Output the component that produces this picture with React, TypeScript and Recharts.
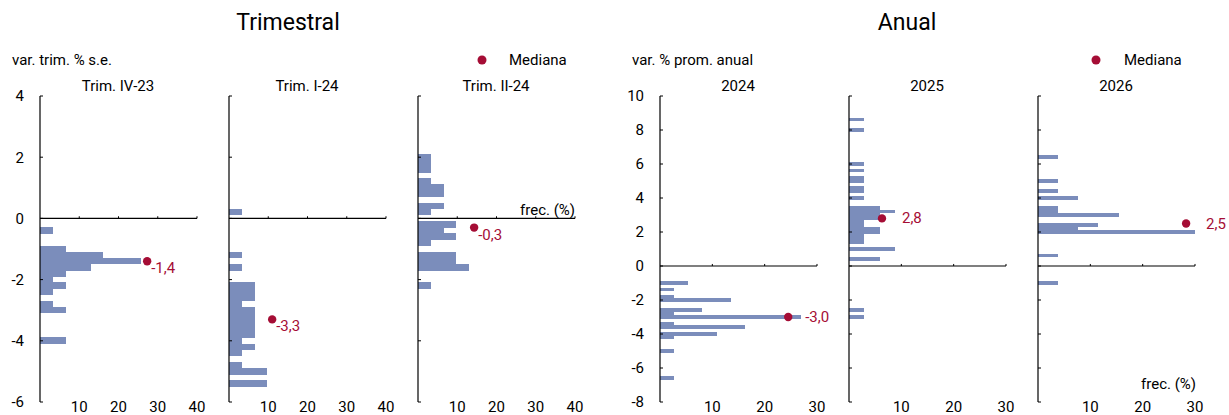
import React from "react";
import {
  BarChart,
  Bar,
  XAxis,
  YAxis,
  ReferenceLine,
  ReferenceDot,
} from "recharts";

const BAR_COLOR = "#7b8dbb";
const MED_COLOR = "#a50d35";
const FONT = "Roboto, sans-serif";

// Trimestral: bin centre (var. trim. %) and frequency (%)
const trimIV23Bins = [-0.4, -1.0, -1.2, -1.4, -1.6, -1.8, -2.0, -2.2, -2.4, -2.8, -3.0, -4.0];
const trimIV23Freq = [3.2, 6.5, 16.1, 25.8, 12.9, 6.5, 3.2, 6.5, 3.2, 3.2, 6.5, 6.5];

const trimI24Bins = [0.2, -1.2, -1.6, -2.2, -2.4, -2.6, -2.8, -3.0, -3.2, -3.4, -3.6, -3.8, -4.0, -4.2, -4.4, -4.8, -5.0, -5.4];
const trimI24Freq = [3.2, 3.2, 3.2, 6.5, 6.5, 6.5, 3.2, 6.5, 6.5, 6.5, 6.5, 6.5, 3.2, 6.5, 3.2, 3.2, 9.7, 9.7];

const trimII24Bins = [2.0, 1.8, 1.6, 1.2, 1.0, 0.8, 0.4, 0.2, -0.2, -0.4, -0.6, -0.8, -1.2, -1.4, -1.6, -2.2];
const trimII24Freq = [3.2, 3.2, 3.2, 3.2, 6.5, 6.5, 6.5, 3.2, 9.7, 6.5, 9.7, 3.2, 9.7, 9.7, 12.9, 3.2];

// Anual: bin centre (var. % prom. anual) and frequency (%)
const y2024Bins = [-1.0, -1.4, -1.8, -2.0, -2.6, -2.8, -3.0, -3.4, -3.6, -4.0, -4.2, -5.0, -6.6];
const y2024Freq = [5.4, 2.7, 2.7, 13.5, 8.1, 2.7, 27.0, 2.7, 16.2, 10.8, 2.7, 2.7, 2.7];

const y2025Bins = [8.6, 8.0, 6.0, 5.6, 5.2, 5.0, 4.6, 4.4, 4.0, 3.4, 3.2, 3.0, 2.8, 2.6, 2.4, 2.2, 2.0, 1.8, 1.6, 1.4, 1.0, 0.4, -2.6, -3.0];
const y2025Freq = [2.9, 2.9, 2.9, 2.9, 2.9, 2.9, 2.9, 2.9, 2.9, 5.9, 8.8, 5.9, 5.9, 2.9, 2.9, 5.9, 5.9, 2.9, 2.9, 2.9, 8.8, 5.9, 2.9, 2.9];

const y2026Bins = [6.4, 5.0, 4.4, 4.0, 3.4, 3.2, 3.0, 2.4, 2.2, 2.0, 0.6, -1.0];
const y2026Freq = [3.8, 3.8, 3.8, 7.7, 3.8, 3.8, 15.4, 11.5, 7.7, 30.0, 3.8, 3.8];

// medians: value, marker position on frequency axis, label
const medianValues = [-1.4, -3.3, -0.3, -3.0, 2.8, 2.5];
const medianFreqPos = [27.3, 11, 14.3, 24.5, 6.3, 28.3];
const medianLabels = ["-1,4", "-3,3", "-0,3", "-3,0", "2,8", "2,5"];

const panelTitles = ["Trim. IV-23", "Trim. I-24", "Trim. II-24", "2024", "2025", "2026"];

const trimYTicks = [-6, -4, -2, 0, 2, 4];
const anualYTicks = [-8, -6, -4, -2, 0, 2, 4, 6, 8, 10];
const trimXTicks = [10, 20, 30, 40];
const anualXTicks = [10, 20, 30];

const PLOT_W = 157;
const Y_AXIS_W = 40;
const RIGHT_PAD = 40;

type PanelProps = {
  plotLeft: number;
  bins: number[];
  freq: number[];
  yDomain: [number, number];
  yTicks: number[];
  xMax: number;
  xTicks: number[];
  showYLabels: boolean;
  tickLen: number;
  barThick: number;
  medIdx: number;
  labelDx: number;
  labelDy: number;
};

function Panel(p: PanelProps) {
  const data = p.bins.map((v, i) => ({ v, f: p.freq[i] }));
  const label = medianLabels[p.medIdx];
  // bins touch each other, so keep the bar centred on its bin but fill the bin height
  const barShape = (s: any) => {
    const cy = s.y + s.height / 2;
    return (
      <rect
        x={s.x}
        y={cy - p.barThick / 2}
        width={Math.max(0, s.width)}
        height={p.barThick}
        fill={BAR_COLOR}
        shapeRendering="crispEdges"
      />
    );
  };
  return (
    <div style={{ position: "absolute", left: p.plotLeft - Y_AXIS_W, top: 0 }}>
      <BarChart
        layout="vertical"
        width={Y_AXIS_W + PLOT_W + RIGHT_PAD}
        height={415}
        data={data}
        margin={{ top: 96, right: RIGHT_PAD, bottom: 0, left: 0 }}
        barCategoryGap={0}
      >
        <XAxis
          type="number"
          dataKey="f"
          domain={[0, p.xMax]}
          ticks={p.xTicks}
          interval={0}
          allowDataOverflow
          axisLine={false}
          tickLine={false}
          tickSize={0}
          tickMargin={-1}
          height={13}
          tick={{ fill: "#000", fontSize: 15, fontFamily: FONT }}
        />
        <YAxis
          type="number"
          dataKey="v"
          reversed
          domain={p.yDomain}
          ticks={p.yTicks}
          interval={0}
          allowDataOverflow
          width={Y_AXIS_W}
          axisLine={{ stroke: "#000", strokeWidth: 1.2 }}
          tickLine={{ stroke: "#000" }}
          tickSize={-3}
          tickMargin={19}
          tick={{ fill: "#000", fontSize: 15, fontFamily: FONT }}
          tickFormatter={(t: number) => (p.showYLabels ? String(t) : "")}
        />
        <Bar dataKey="f" fill={BAR_COLOR} shape={barShape} isAnimationActive={false} />
        <ReferenceLine y={0} stroke="#000" strokeWidth={1.2} />
        {p.xTicks.map((t) => (
          <ReferenceLine
            key={t}
            segment={[
              { x: t, y: 0 },
              { x: t, y: p.tickLen },
            ]}
            stroke="#000"
          />
        ))}
        <ReferenceDot
          x={medianFreqPos[p.medIdx]}
          y={medianValues[p.medIdx]}
          r={4}
          shape={(s: any) => (
            <g>
              <circle cx={s.cx} cy={s.cy} r={4.2} fill={MED_COLOR} />
              <text
                x={s.cx + p.labelDx}
                y={s.cy + p.labelDy}
                fill={MED_COLOR}
                fontSize={15}
                fontFamily={FONT}
                dominantBaseline="central"
              >
                {label}
              </text>
            </g>
          )}
        />
      </BarChart>
    </div>
  );
}

const trimLefts = [39.5, 228.5, 417.5];
const anualLefts = [659.5, 848.5, 1037.5];

export default function App() {
  const trimData = [
    [trimIV23Bins, trimIV23Freq],
    [trimI24Bins, trimI24Freq],
    [trimII24Bins, trimII24Freq],
  ];
  const anualData = [
    [y2024Bins, y2024Freq],
    [y2025Bins, y2025Freq],
    [y2026Bins, y2026Freq],
  ];
  const anualDx = [17, 20, 20];
  return (
    <div
      style={{
        position: "absolute",
        left: 0,
        top: 0,
        width: 1229,
        height: 415,
        background: "#fff",
        overflow: "hidden",
        fontFamily: FONT,
      }}
    >
      {trimData.map(([b, f], i) => (
        <Panel
          key={"t" + i}
          plotLeft={trimLefts[i]}
          bins={b}
          freq={f}
          yDomain={[-6, 4]}
          yTicks={trimYTicks}
          xMax={40}
          xTicks={trimXTicks}
          showYLabels={i === 0}
          tickLen={0.07}
          barThick={6.5}
          medIdx={i}
          labelDx={4}
          labelDy={7}
        />
      ))}
      {anualData.map(([b, f], i) => (
        <Panel
          key={"a" + i}
          plotLeft={anualLefts[i]}
          bins={b}
          freq={f}
          yDomain={[-8, 10]}
          yTicks={anualYTicks}
          xMax={30}
          xTicks={anualXTicks}
          showYLabels={i === 0}
          tickLen={0.12}
          barThick={3.7}
          medIdx={i + 3}
          labelDx={anualDx[i]}
          labelDy={0}
        />
      ))}
      <svg
        width={1229}
        height={415}
        style={{ position: "absolute", left: 0, top: 0, pointerEvents: "none" }}
      >
        <g fontFamily={FONT} fill="#000">
          <text x={288} y={22} fontSize={23} textAnchor="middle" dominantBaseline="central">
            Trimestral
          </text>
          <text x={907} y={22} fontSize={23} textAnchor="middle" dominantBaseline="central">
            Anual
          </text>
          <text x={12} y={60} fontSize={15} dominantBaseline="central">
            var. trim. % s.e.
          </text>
          <text x={632} y={60} fontSize={15} dominantBaseline="central">
            var. % prom. anual
          </text>
          <circle cx={482} cy={60} r={4.5} fill={MED_COLOR} />
          <text x={509} y={60} fontSize={15} dominantBaseline="central">
            Mediana
          </text>
          <circle cx={1096} cy={60} r={4.5} fill={MED_COLOR} />
          <text x={1124} y={60} fontSize={15} dominantBaseline="central">
            Mediana
          </text>
          {panelTitles.map((t, i) => {
            const left = i < 3 ? trimLefts[i] : anualLefts[i - 3];
            return (
              <text
                key={t}
                x={left + PLOT_W / 2}
                y={86}
                fontSize={15}
                textAnchor="middle"
                dominantBaseline="central"
              >
                {t}
              </text>
            );
          })}
          <text x={575} y={210} fontSize={15} textAnchor="end" dominantBaseline="central">
            frec. (%)
          </text>
          <text x={1196} y={384} fontSize={15} textAnchor="end" dominantBaseline="central">
            frec. (%)
          </text>
        </g>
      </svg>
    </div>
  );
}
